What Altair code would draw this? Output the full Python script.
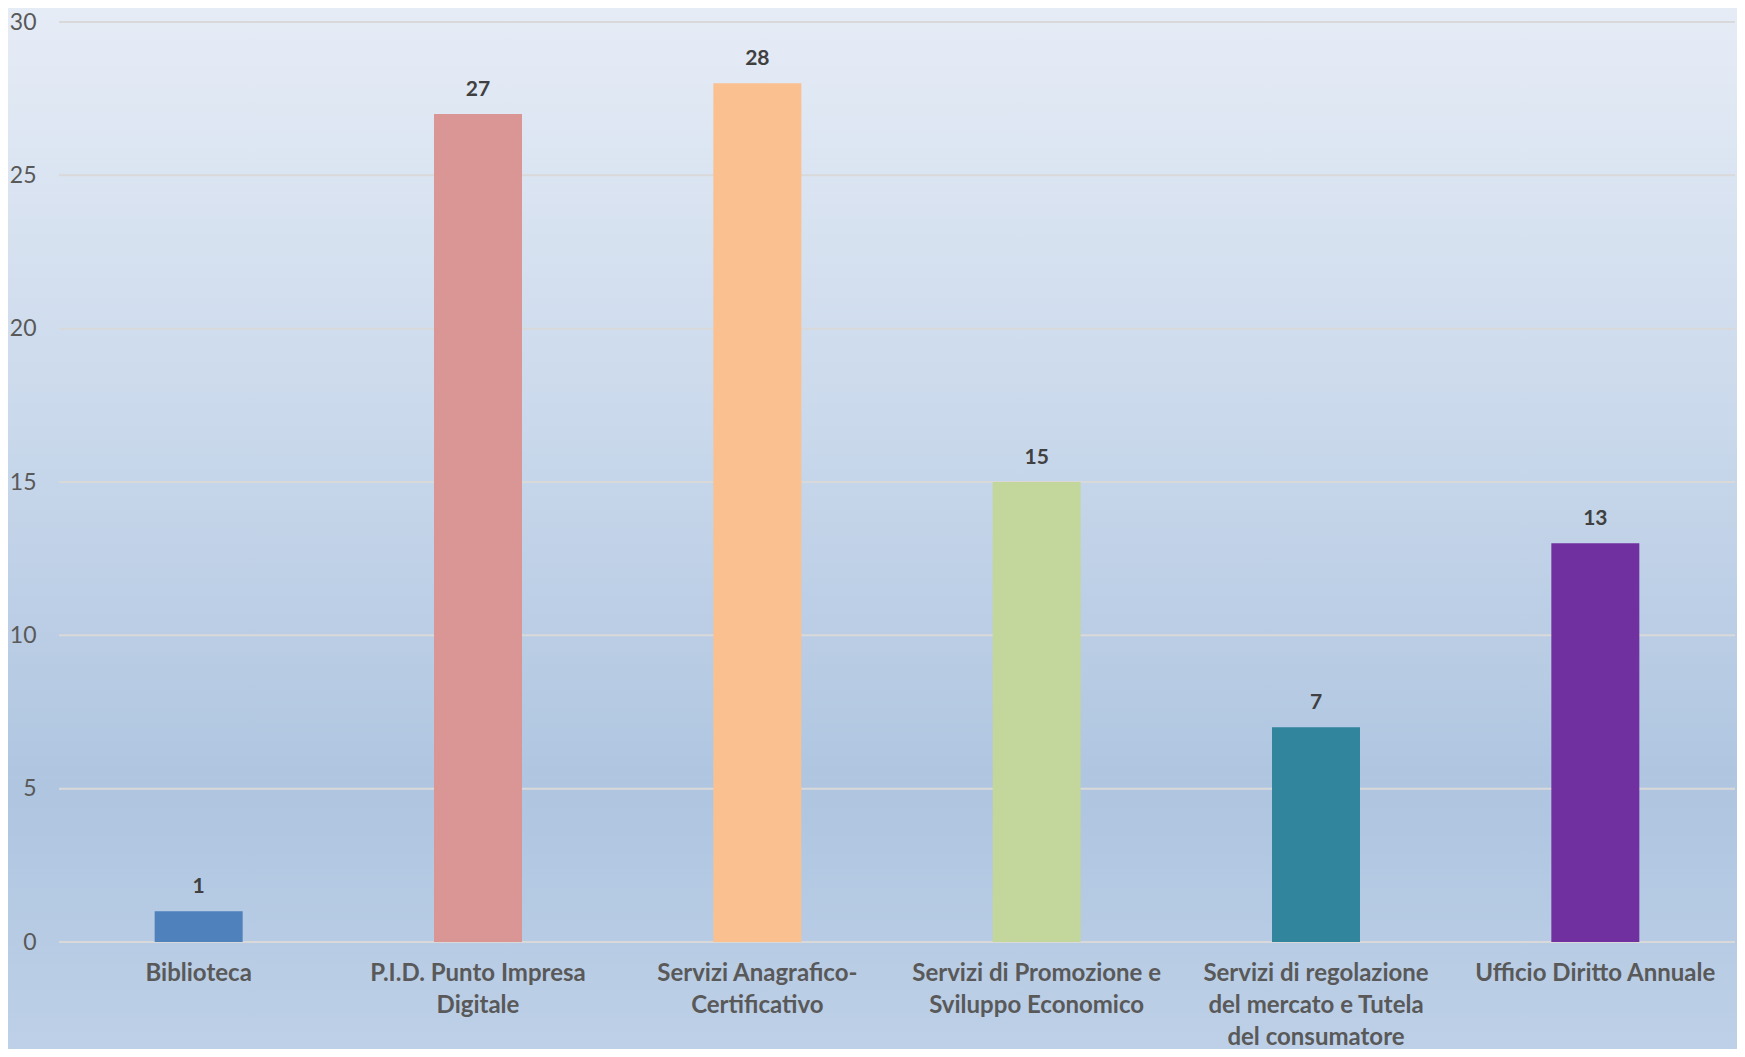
import json
import altair as alt
import pandas as pd

categories = [
    "Biblioteca",
    "P.I.D. Punto Impresa Digitale",
    "Servizi Anagrafico-Certificativo",
    "Servizi di Promozione e Sviluppo Economico",
    "Servizi di regolazione del mercato e Tutela del consumatore",
    "Ufficio Diritto Annuale",
]
values = [1, 27, 28, 15, 7, 13]
colors = ["#4F81BD", "#D99694", "#FAC090", "#C3D69B", "#31859C", "#7030A0"]
label_lines = [
    ["Biblioteca"],
    ["P.I.D. Punto Impresa", "Digitale"],
    ["Servizi Anagrafico-", "Certificativo"],
    ["Servizi di Promozione e", "Sviluppo Economico"],
    ["Servizi di regolazione", "del mercato e Tutela", "del consumatore"],
    ["Ufficio Diritto Annuale"],
]
y_ticks = [0, 5, 10, 15, 20, 25, 30]

FONT = "Lato"
W, H = 1676, 920
PAD_L, PAD_T, PAD_R, PAD_B = 51, 14, 2, 107

df = pd.DataFrame({"cat": categories, "value": values})
grid_df = pd.DataFrame({"tick": y_ticks})
label_map = json.dumps(dict(zip(categories, label_lines)))

x_enc = alt.X(
    "cat:N",
    sort=categories,
    scale=alt.Scale(paddingInner=0, paddingOuter=0),
    axis=alt.Axis(
        title=None, domain=False, ticks=False, grid=False, labelAngle=0,
        labelFont=FONT, labelFontSize=24, labelFontWeight="bold",
        labelColor="#595959", labelLineHeight=32, labelPadding=19,
        labelOverlap=False, labelLimit=0, labelExpr=f"{label_map}[datum.value]", zindex=1,
    ),
)
y_scale = alt.Scale(domain=[0, 30], nice=False)
y_enc = alt.Y(
    "value:Q",
    scale=y_scale,
    axis=alt.Axis(
        title=None, domain=False, ticks=False, grid=False, values=y_ticks,
        labelFont=FONT, labelFontSize=23, labelColor="#595959",
        labelPadding=23, zindex=1,
    ),
)

bg = alt.Chart(pd.DataFrame({"a": [0]})).mark_rect(
    color=alt.LinearGradient(
        gradient="linear", x1=0, x2=0, y1=0, y2=1,
        stops=[
            alt.GradientStop(color="#E6ECF6", offset=0),
            alt.GradientStop(color="#C6D6EA", offset=0.45),
            alt.GradientStop(color="#AFC5E0", offset=0.75),
            alt.GradientStop(color="#BDD0E7", offset=1),
        ],
    )
).encode(
    x=alt.value(-PAD_L), x2=alt.value(W + PAD_R),
    y=alt.value(-PAD_T), y2=alt.value(H + PAD_B),
)

grid = alt.Chart(grid_df).mark_rule(color="#D9D9D9", strokeWidth=2).encode(
    y=alt.Y("tick:Q", scale=y_scale), x=alt.value(0), x2=alt.value(W)
)

bars = alt.Chart(df).mark_bar(size=88).encode(
    x=x_enc,
    y=y_enc,
    color=alt.Color("cat:N", scale=alt.Scale(domain=categories, range=colors), legend=None),
)

text = alt.Chart(df).mark_text(
    dy=-18, baseline="alphabetic", font=FONT, fontSize=21, fontWeight="bold", color="#404040"
).encode(x=alt.X("cat:N", sort=categories), y=alt.Y("value:Q", scale=y_scale), text="value:Q")

chart = alt.layer(bg, grid, bars, text).resolve_scale(y="shared").properties(
    width=W,
    height=H,
    autosize=alt.AutoSizeParams(type="none"),
    padding={"left": PAD_L, "top": PAD_T, "right": PAD_R, "bottom": PAD_B},
).configure_view(strokeWidth=0)

chart.save("out.html", embed_options={"renderer": "svg", "actions": False})
